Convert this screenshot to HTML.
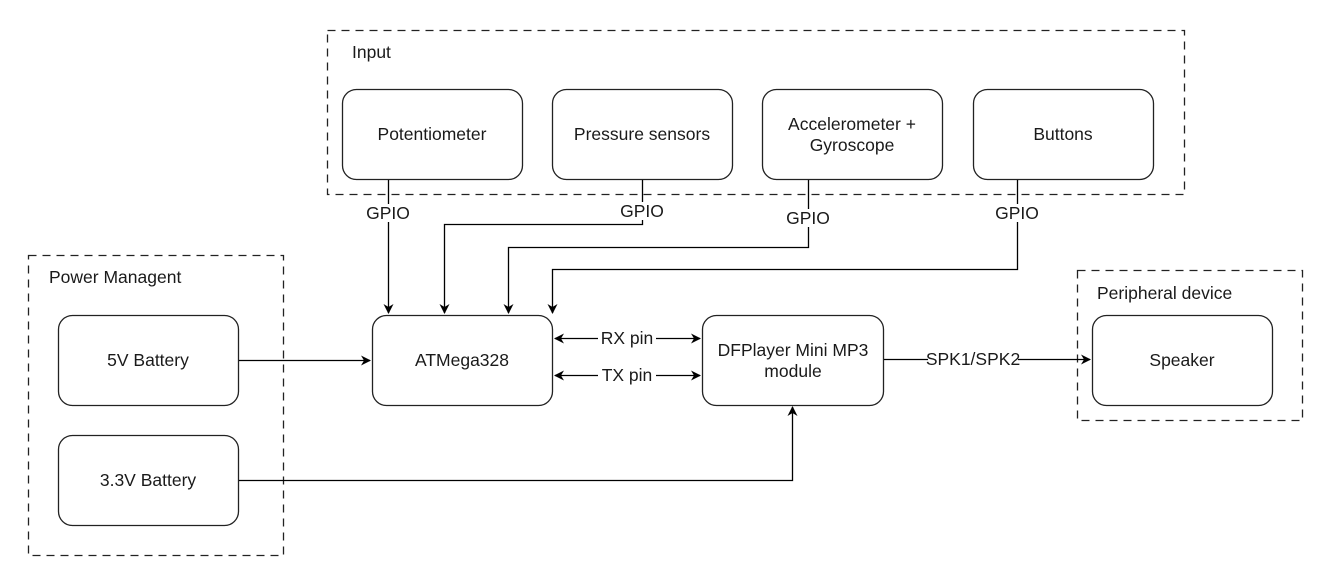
<!DOCTYPE html>
<html><head><meta charset="utf-8"><style>
html,body{margin:0;padding:0;background:#fff;}
svg{display:block;}
text{font-family:"Liberation Sans",Arial,sans-serif;font-size:17.5px;fill:#1a1a1a;}
</style></head><body>
<svg width="1332" height="583" viewBox="0 0 1332 583" xmlns="http://www.w3.org/2000/svg">
<defs>
<marker id="a" markerWidth="10" markerHeight="10" refX="9" refY="5" orient="auto" markerUnits="userSpaceOnUse">
<path d="M0,0 L10,5 L0,10 L3,5 Z" fill="#000"/></marker>
<marker id="s" markerWidth="10" markerHeight="10" refX="1" refY="5" orient="auto" markerUnits="userSpaceOnUse">
<path d="M10,0 L0,5 L10,10 L7,5 Z" fill="#000"/></marker>
</defs>
<g fill="none" stroke="#222" stroke-width="1.3" stroke-dasharray="8,6">
<rect x="327.5" y="30.5" width="857" height="164"/>
<rect x="28.5" y="255.5" width="255" height="300"/>
<rect x="1077.5" y="270.5" width="225" height="150"/>
</g>
<text x="352" y="58">Input</text>
<text x="49" y="283">Power Managent</text>
<text x="1097" y="299">Peripheral device</text>
<g fill="#fff" stroke="#222" stroke-width="1.3">
<rect x="342.5" y="89.5" width="180" height="90" rx="14"/>
<rect x="552.5" y="89.5" width="180" height="90" rx="14"/>
<rect x="762.5" y="89.5" width="180" height="90" rx="14"/>
<rect x="973.5" y="89.5" width="180" height="90" rx="14"/>
<rect x="58.5" y="315.5" width="180" height="90" rx="14"/>
<rect x="58.5" y="435.5" width="180" height="90" rx="14"/>
<rect x="372.5" y="315.5" width="180" height="90" rx="14"/>
<rect x="702.5" y="315.5" width="181" height="90" rx="14"/>
<rect x="1092.5" y="315.5" width="180" height="90" rx="14"/>
</g>
<g text-anchor="middle">
<text x="432" y="140">Potentiometer</text>
<text x="642" y="140">Pressure sensors</text>
<text x="852" y="130">Accelerometer +</text>
<text x="852" y="151">Gyroscope</text>
<text x="1063" y="140">Buttons</text>
<text x="148" y="366">5V Battery</text>
<text x="148" y="486">3.3V Battery</text>
<text x="462" y="366">ATMega328</text>
<text x="793" y="356">DFPlayer Mini MP3</text>
<text x="793" y="377">module</text>
<text x="1182" y="366">Speaker</text>
</g>
<g fill="none" stroke="#000" stroke-width="1.3">
<path d="M388.5,180 V313" marker-end="url(#a)"/>
<path d="M642.5,180 V224.5 H444.5 V313" marker-end="url(#a)"/>
<path d="M808.5,180 V247.5 H508.5 V313" marker-end="url(#a)"/>
<path d="M1017.5,180 V269.5 H552.5 V313" marker-end="url(#a)"/>
<path d="M239,360.5 H370" marker-end="url(#a)"/>
<path d="M239,480.5 H792.5 V407" marker-end="url(#a)"/>
<path d="M555,338.5 H700" marker-start="url(#s)" marker-end="url(#a)"/>
<path d="M555,375.5 H700" marker-start="url(#s)" marker-end="url(#a)"/>
<path d="M884,359.5 H1090" marker-end="url(#a)"/>
</g>
<g fill="#fff">
<rect x="366" y="204" width="44" height="18"/>
<rect x="620" y="202" width="44" height="18"/>
<rect x="786" y="209" width="44" height="18"/>
<rect x="995" y="204" width="44" height="18"/>
<rect x="598" y="330" width="58" height="17"/>
<rect x="598" y="367" width="58" height="17"/>
<rect x="928" y="351" width="90" height="17"/>
</g>
<g text-anchor="middle">
<text x="388" y="219">GPIO</text>
<text x="642" y="217">GPIO</text>
<text x="808" y="224">GPIO</text>
<text x="1017" y="219">GPIO</text>
<text x="627" y="344">RX pin</text>
<text x="627" y="381">TX pin</text>
<text x="973" y="365">SPK1/SPK2</text>
</g>
</svg>
</body></html>
